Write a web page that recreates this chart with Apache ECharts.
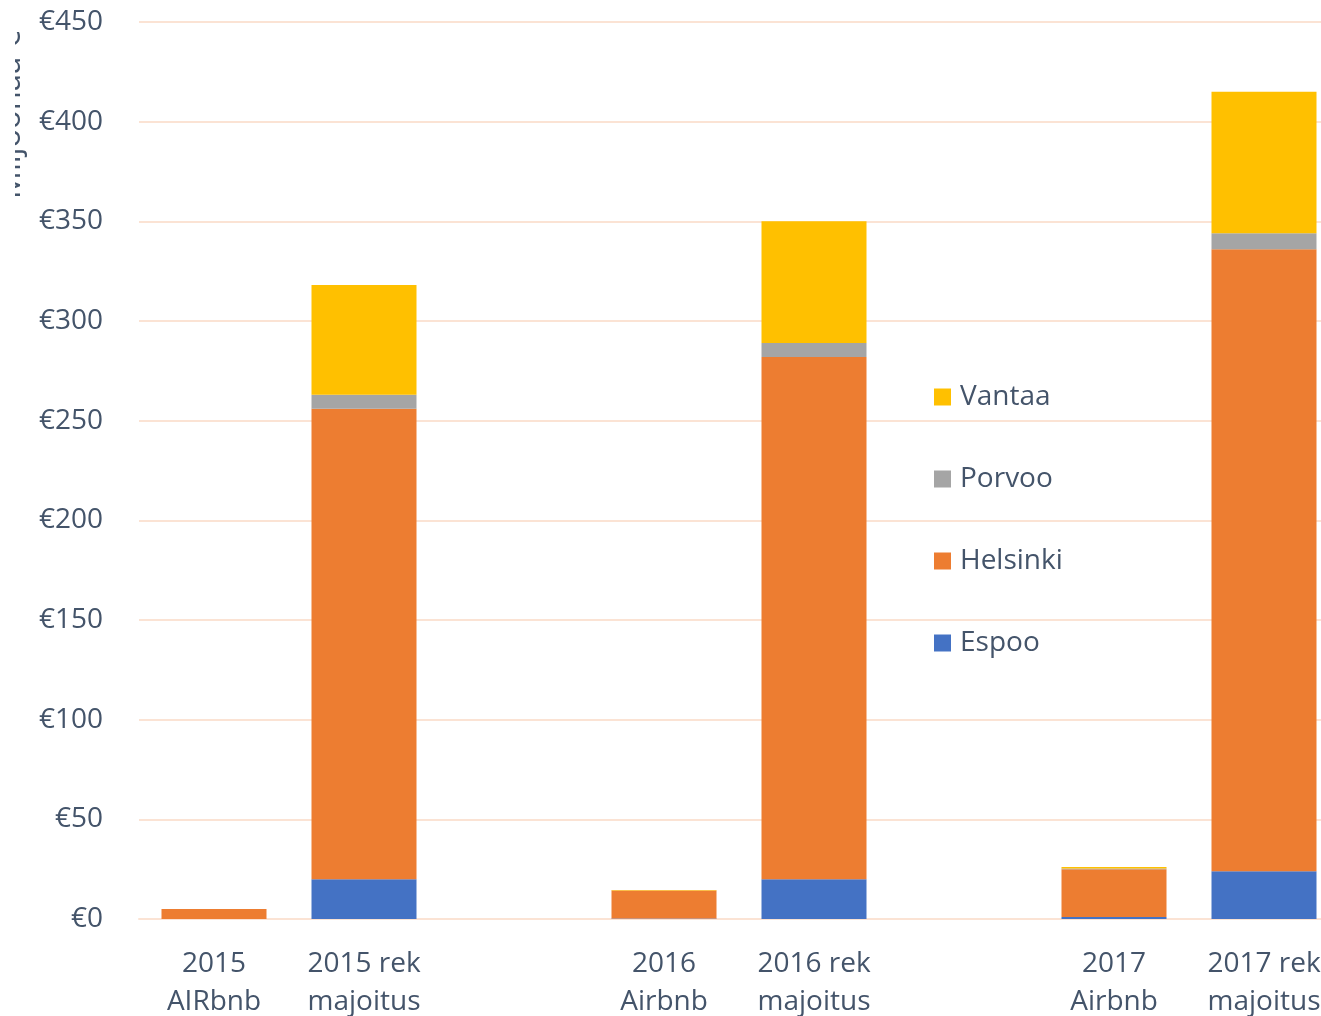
<!DOCTYPE html>
<html>
<head>
<meta charset="utf-8">
<script src="https://cdn.jsdelivr.net/npm/echarts@6/dist/echarts.min.js"></script>
<style>
  html, body { margin: 0; padding: 0; background: #fff; }
  #chart { width: 1321px; height: 1016px; }
</style>
</head>
<body>
<div id="chart"></div>
<script>
// kategoriat (tyhjät välit vuosien välissä)
var categories = ['2015\nAIRbnb', '2015 rek\nmajoitus', '', '2016\nAirbnb', '2016 rek\nmajoitus', '', '2017\nAirbnb', '2017 rek\nmajoitus'];
var espoo    = [0,   20,  null, 0.3, 20,  null, 1,   24];
var helsinki = [5,   236, null, 14,  262, null, 24,  312];
var porvoo   = [0,   7,   null, 0,   7,   null, 0.3, 8];
var vantaa   = [0,   55,  null, 0.3, 61,  null, 0.8, 71];
var yTicks = [0, 450, 50]; // min, max, interval

var textColor = '#44546A';
var font = 'Open Sans';

function series(name, data, color) {
  return {
    name: name,
    type: 'bar',
    stack: 'total',
    barWidth: '70%',
    data: data,
    itemStyle: { color: color },
    emphasis: { disabled: true }
  };
}

var chart = echarts.init(document.getElementById('chart'));
var option = {
  animation: false,
  textStyle: { fontFamily: font },
  grid: { left: 139, width: 1200, top: 22, bottom: 97, outerBoundsMode: 'none', containLabel: false },
  legend: {
    orient: 'vertical',
    left: 934,
    top: 383,
    padding: 0,
    itemWidth: 17,
    itemHeight: 17,
    itemGap: 54,
    icon: 'rect',
    data: ['Vantaa', 'Porvoo', 'Helsinki', 'Espoo'],
    textStyle: { color: textColor, fontSize: 28, fontFamily: font, padding: [0, 0, 0, 4] }
  },
  xAxis: {
    type: 'category',
    data: categories,
    axisLine: { show: true, lineStyle: { color: '#FBE3D4', width: 2 } },
    axisTick: { show: false },
    axisLabel: {
      color: textColor,
      fontSize: 28,
      lineHeight: 38,
      margin: 26,
      interval: 0,
      fontFamily: font
    }
  },
  yAxis: {
    type: 'value',
    min: yTicks[0],
    max: yTicks[1],
    interval: yTicks[2],
    axisLine: { show: false },
    axisTick: { show: false },
    splitLine: { lineStyle: { color: '#FBE3D4', width: 2 } },
    axisLabel: {
      color: textColor,
      fontSize: 28,
      margin: 36,
      fontFamily: font,
      formatter: function (v) { return '€' + v; }
    }
  },
  graphic: [{
    type: 'text',
    x: 11,
    y: 115,
    rotation: Math.PI / 2,
    z: 10,
    style: {
      text: 'Miljoonaa €',
      fill: textColor,
      font: '31px "' + font + '"',
      align: 'center',
      verticalAlign: 'middle'
    }
  }, {
    // otsikko on leikattu vasemmasta reunasta
    type: 'rect',
    z: 11,
    shape: { x: 0, y: 0, width: 15, height: 230 },
    style: { fill: '#fff' }
  }],
  series: [
    series('Espoo', espoo, '#4472C4'),
    series('Helsinki', helsinki, '#ED7D31'),
    series('Porvoo', porvoo, '#A5A5A5'),
    series('Vantaa', vantaa, '#FFC000')
  ]
};
chart.setOption(option);
</script>
</body>
</html>
